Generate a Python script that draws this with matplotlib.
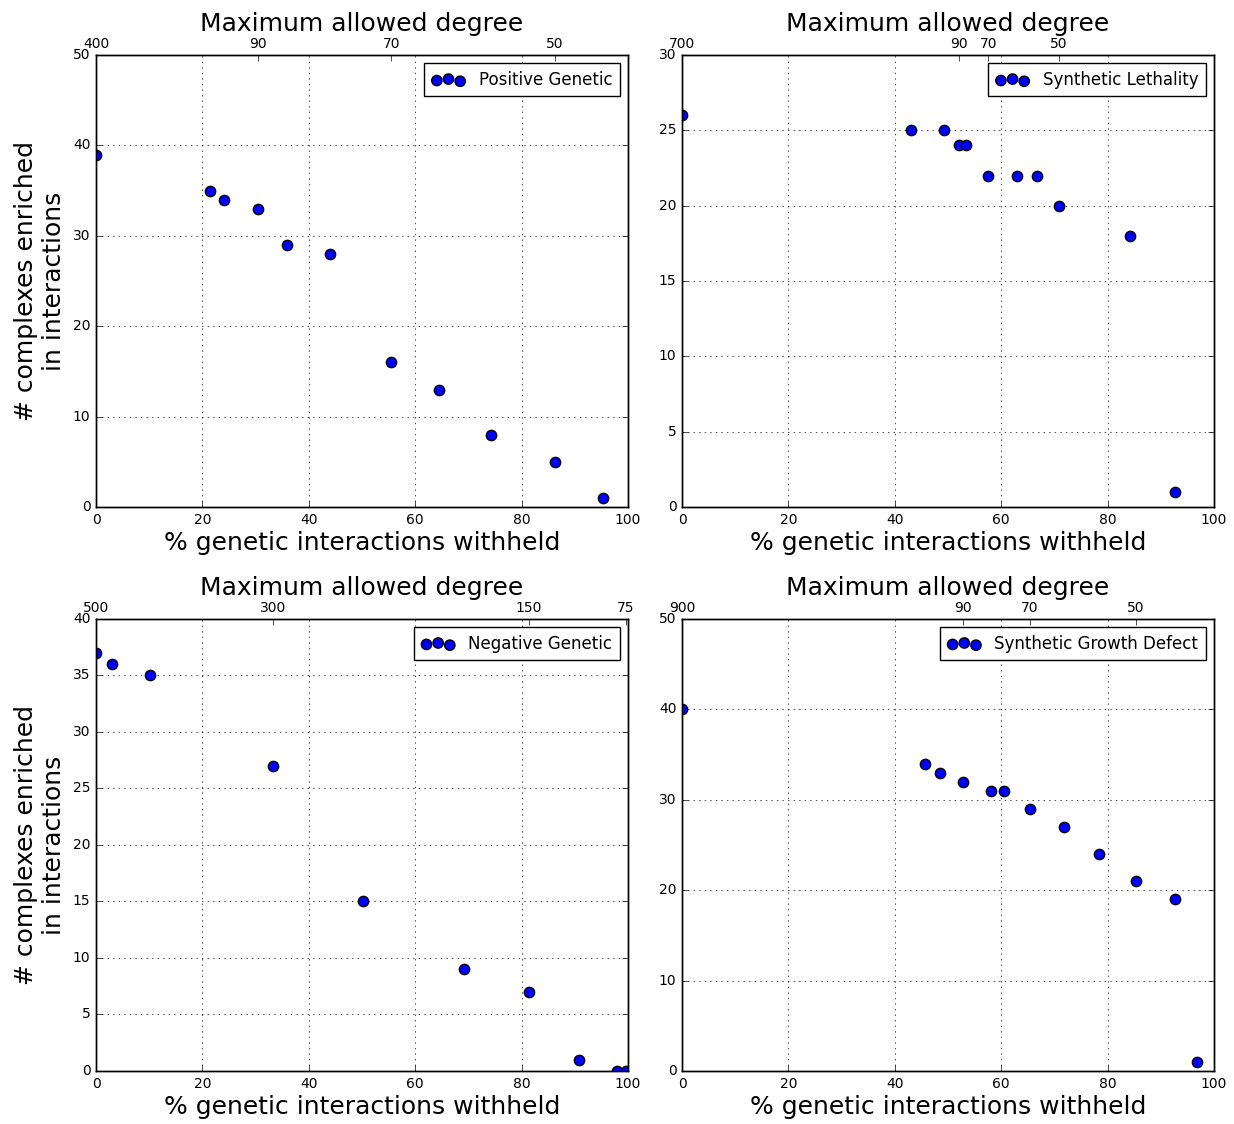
import matplotlib
matplotlib.use("Agg")
import matplotlib.pyplot as plt

plt.style.use("classic")

# Positive Genetic
pos_x = [0, 21.4, 24.1, 30.5, 35.9, 44.0, 55.5, 64.5, 74.2, 86.3, 95.3]
pos_y = [39, 35, 34, 33, 29, 28, 16, 13, 8, 5, 1]
pos_top = [0, 30.5, 55.5, 86.3]
pos_top_labels = ["400", "90", "70", "50"]

# Synthetic Lethality
sl_x = [0, 43.0, 49.3, 52.0, 53.3, 57.6, 63.0, 66.8, 70.8, 84.3, 92.7]
sl_y = [26, 25, 25, 24, 24, 22, 22, 22, 20, 18, 1]
sl_top = [0, 52.0, 57.6, 70.8]
sl_top_labels = ["700", "90", "70", "50"]

# Negative Genetic
neg_x = [0, 3.0, 10.2, 33.3, 50.2, 69.2, 81.4, 90.8, 97.9, 99.6]
neg_y = [37, 36, 35, 27, 15, 9, 7, 1, 0, 0]
neg_top = [0, 33.3, 81.4, 99.6]
neg_top_labels = ["500", "300", "150", "75"]

# Synthetic Growth Defect
sgd_x = [0, 45.7, 48.5, 52.8, 58.1, 60.5, 65.4, 71.8, 78.4, 85.3, 92.7, 96.8]
sgd_y = [40, 34, 33, 32, 31, 31, 29, 27, 24, 21, 19, 1]
sgd_top = [0, 52.8, 65.4, 85.3]
sgd_top_labels = ["900", "90", "70", "50"]

panels = [
    ("Positive Genetic", pos_x, pos_y, pos_top, pos_top_labels, 50, 10),
    ("Synthetic Lethality", sl_x, sl_y, sl_top, sl_top_labels, 30, 5),
    ("Negative Genetic", neg_x, neg_y, neg_top, neg_top_labels, 40, 5),
    ("Synthetic Growth Defect", sgd_x, sgd_y, sgd_top, sgd_top_labels, 50, 10),
]

fig = plt.figure(figsize=(12.34, 11.24), dpi=100, facecolor="white")

lefts = [0.0778, 0.5527, 0.0778, 0.5527]
bottoms = [0.5489, 0.5489, 0.0472, 0.0472]

for i, (name, x, y, top, top_labels, ymax, ystep) in enumerate(panels):
    ax = fig.add_axes([lefts[i], bottoms[i], 0.4311, 0.4021])
    ax.scatter(x, y, s=55, color="b", edgecolor="k", label=name, zorder=3)
    ax.set_xlim(0, 100)
    ax.set_ylim(0, ymax)
    ax.set_xticks(range(0, 101, 20))
    ax.set_yticks(range(0, ymax + 1, ystep))
    ax.tick_params(labelsize=10)
    ax.grid(True, color="k", linestyle=":")
    ax.set_xlabel("% genetic interactions withheld", fontsize=18, labelpad=3)
    if i % 2 == 0:
        ax.set_ylabel("# complexes enriched\nin interactions", fontsize=18, labelpad=5)
    ax.legend(loc="upper right", scatterpoints=3, fontsize=12, borderpad=0.45)

    # top axis: max degree
    ax2 = ax.twiny()
    ax2.set_xlim(0, 100)
    ax2.set_xticks(top)
    ax2.set_xticklabels(top_labels)
    ax2.tick_params(labelsize=10, pad=3)
    ax2.set_xlabel("Maximum allowed degree", fontsize=18, labelpad=4)

fig.savefig("out.png", dpi=100, facecolor="white")
